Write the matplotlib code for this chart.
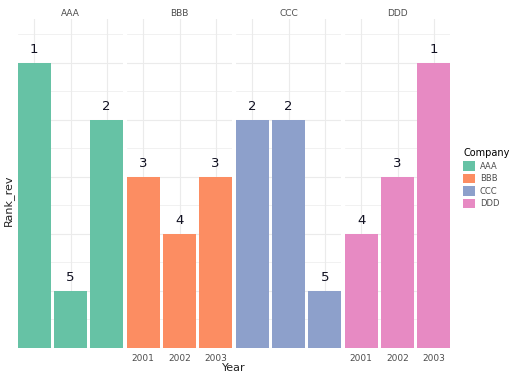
import matplotlib.pyplot as plt
from matplotlib.patches import Patch

companies = ["AAA", "BBB", "CCC", "DDD"]
years = ["2001", "2002", "2003"]
ranks = {
    "AAA": [1, 5, 2],
    "BBB": [3, 4, 3],
    "CCC": [2, 2, 5],
    "DDD": [4, 3, 1],
}
colors = ["#66C2A5", "#FC8D62", "#8DA0CB", "#E78AC3"]
show_ticks = {"AAA": False, "BBB": True, "CCC": False, "DDD": True}

W, H = 512, 377
fig = plt.figure(figsize=(W / 100, H / 100), dpi=100)

grid_col = "#ebebeb"
bottom_px, top_px = 348, 19

for i, comp in enumerate(companies):
    left_px = 18 + i * 109
    ax = fig.add_axes([left_px / W, (H - bottom_px) / H, 105 / W, (bottom_px - top_px) / H])
    vals = [6 - r for r in ranks[comp]]
    xs = [1, 2, 3]
    ax.bar(xs, vals, width=0.9, color=colors[i], zorder=2)
    for x, v, r in zip(xs, vals, ranks[comp]):
        ax.text(x, v + 0.12, str(r), ha="center", va="bottom", fontsize=9.5, color="#111122", zorder=3)
    ax.set_xlim(0.55, 3.45)
    ax.set_ylim(0, 5.77)
    ax.set_yticks([0, 1, 2, 3, 4, 5])
    ax.set_yticks([0.5, 1.5, 2.5, 3.5, 4.5, 5.5], minor=True)
    ax.set_xticks(xs)
    ax.grid(True, which="major", color=grid_col, lw=0.8, zorder=0)
    ax.grid(True, which="minor", axis="y", color=grid_col, lw=0.5, zorder=0)
    ax.tick_params(which="both", length=0, labelleft=False)
    if show_ticks[comp]:
        ax.set_xticklabels(years, fontsize=6.5, color="#4d4d4d")
        ax.tick_params(axis="x", pad=4)
    else:
        ax.set_xticklabels([])
    for s in ax.spines.values():
        s.set_visible(False)
    ax.set_title(comp, fontsize=6.5, color="#4d4d4d", pad=2)

fig.text(234 / W, 1 - 368 / H, "Year", ha="center", va="center", fontsize=8, color="#222222")
fig.text(8 / W, 1 - 200 / H, "Rank_rev", ha="center", va="center", rotation=90, fontsize=8, color="#222222")

handles = [Patch(facecolor=c, edgecolor="none", label=n) for c, n in zip(colors, companies)]
leg = fig.legend(handles=handles, title="Company", loc="upper left", bbox_to_anchor=(460 / W, 1 - 145 / H),
                 frameon=False, fontsize=6, title_fontsize=7, handlelength=1.4, handleheight=1.4,
                 handletextpad=0.6, labelspacing=0.35, borderaxespad=0)
leg._legend_box.align = "left"
for t in leg.get_texts():
    t.set_color("#4d4d4d")

fig.savefig("out.png", dpi=100)
